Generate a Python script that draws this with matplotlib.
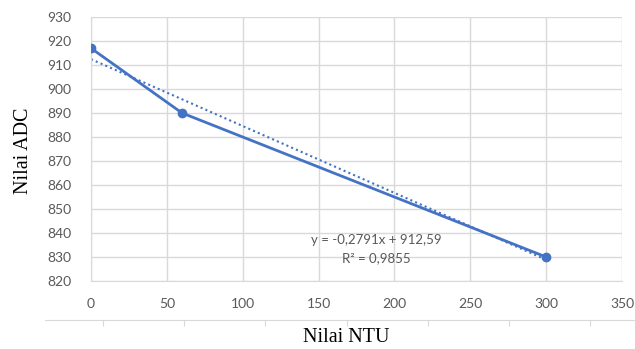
import numpy as np
import matplotlib.pyplot as plt
from matplotlib.ticker import MultipleLocator

ntu = [0, 60, 300]
adc = [917, 890, 830]
eq_text = "y = -0,2791x + 912,59"
r2_text = "R² = 0,9855"

blue = '#4472C4'
grey_txt = '#595959'
grid_c = '#D9D9D9'

fig = plt.figure(figsize=(6.35, 3.49), dpi=100)
ax = fig.add_axes([91/635, 1 - 281/349, 531/635, 264/349])

ax.plot(ntu, adc, color=blue, lw=2, marker='o', ms=6, zorder=3)

# linear trendline
k, b = np.polyfit(ntu, adc, 1)
xs = np.array([min(ntu), max(ntu)])
ax.plot(xs, k * xs + b, color=blue, lw=1.5, ls=(0, (1, 1.5)), zorder=2)

ax.set_xlim(0, 350)
ax.set_ylim(820, 930)
ax.xaxis.set_major_locator(MultipleLocator(50))
ax.yaxis.set_major_locator(MultipleLocator(10))
ax.grid(True, color=grid_c, lw=1)
ax.set_axisbelow(True)
for s in ['top', 'right']:
    ax.spines[s].set_visible(False)
for s in ['left', 'bottom']:
    ax.spines[s].set_color(grid_c)
ax.tick_params(length=0, labelsize=10, labelcolor=grey_txt)
ax.tick_params(axis='y', pad=14)
ax.tick_params(axis='x', pad=12)
for lab in ax.get_xticklabels() + ax.get_yticklabels():
    lab.set_fontfamily('Lato')

ax.text(188, 837, eq_text, ha='center', va='center', fontsize=9.5,
        color=grey_txt, family='Lato')
ax.text(188, 829.5, r2_text, ha='center', va='center', fontsize=9.5,
        color=grey_txt, family='Lato')

fig.text(23/635, 1 - 151/349, 'Nilai ADC', ha='center', va='center',
         rotation=90, family='Liberation Serif', fontsize=14.5)

# the stray second axis line below the chart
ax2 = fig.add_axes([45/635, 0, 590/635, 29/349])
ax2.set_xlim(0, 590)
ax2.set_ylim(0, 1)
ax2.patch.set_visible(False)
for s in ['left', 'right', 'bottom']:
    ax2.spines[s].set_visible(False)
ax2.spines['top'].set_color(grid_c)
ax2.xaxis.tick_top()
ax2.set_xticks([58, 139, 220, 302, 383, 464, 545])
ax2.tick_params(axis='x', direction='in', length=4, color=grid_c, labeltop=False)
ax2.set_yticks([])
fig.text(346/635, 1 - 338/349, 'Nilai NTU', ha='center', va='center',
         family='Liberation Serif', fontsize=14.5)

fig.savefig('out.png', dpi=100)
